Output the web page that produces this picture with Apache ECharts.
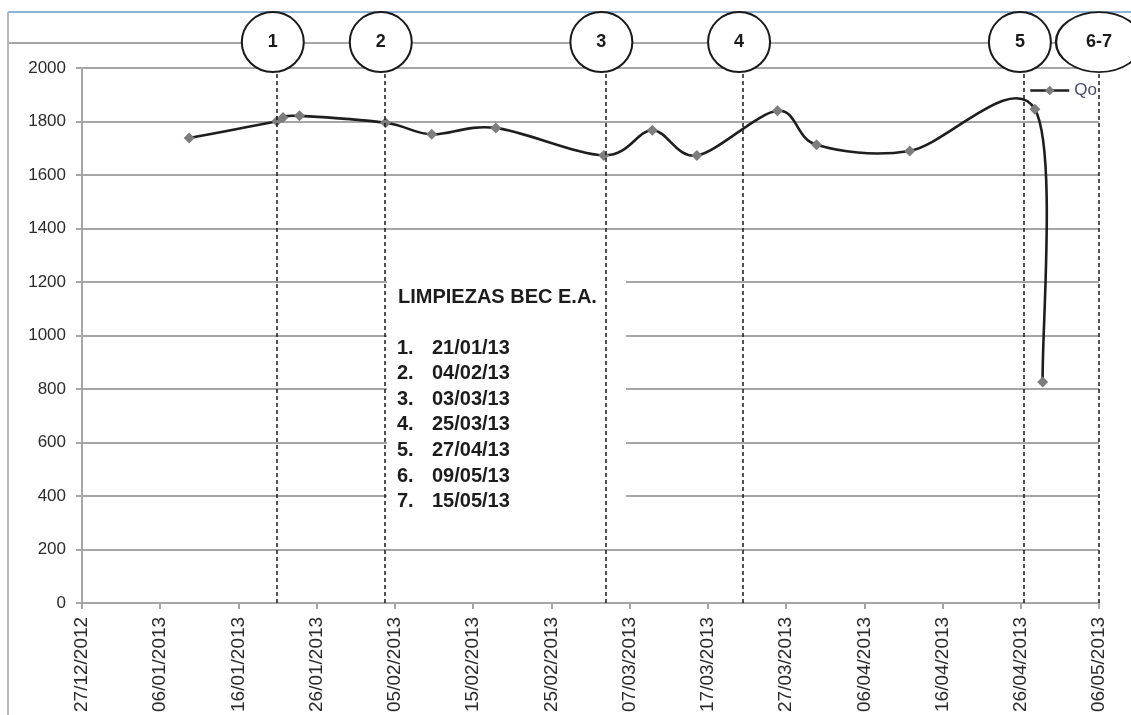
<!DOCTYPE html>
<html>
<head>
<meta charset="utf-8">
<title>Qo</title>
<script src="https://cdn.jsdelivr.net/npm/echarts@6/dist/echarts.min.js"></script>
<style>
  html, body { margin: 0; padding: 0; background: #ffffff; }
  #chart { width: 1131px; height: 715px; }
</style>
</head>
<body>
<div id="chart"></div>
<script>
// x axis: days counted from 27/12/2012, one tick every 10 days
const tickLabels = ['27/12/2012', '06/01/2013', '16/01/2013', '26/01/2013', '05/02/2013',
  '15/02/2013', '25/02/2013', '07/03/2013', '17/03/2013', '27/03/2013',
  '06/04/2013', '16/04/2013', '26/04/2013', '06/05/2013'];

// Qo readings (day offset, value)
const sampleDays = [13.7, 24.9, 25.7, 27.8, 38.8, 44.7, 52.9, 66.7, 72.9, 78.6, 88.9, 93.9, 105.8, 121.8, 122.8];
const qoValues = [1738, 1801, 1815, 1821, 1795, 1752, 1776, 1673, 1767, 1673, 1840, 1713, 1690, 1846, 826];

// cleaning events marked on the chart
const eventDays = [24.9, 38.7, 66.9, 84.5, 120.4, 130];
const eventTags = ['1', '2', '3', '4', '5', '6-7'];

// note box
const boxTitle = 'LIMPIEZAS BEC E.A.';
const eventDates = ['21/01/13', '04/02/13', '03/03/13', '25/03/13', '27/04/13', '09/05/13', '15/05/13'];

const FONT = '"Liberation Sans", Arial, sans-serif';
const GRID_GRAY = '#a6a6a6';
const TAG_LEVEL = 2097; // circles sit above the plot, on the header rule

const chart = echarts.init(document.getElementById('chart'), null, { renderer: 'canvas' });

// Excel-like smoothed curve (Catmull-Rom as cubic Beziers) through the readings
function renderCurve(params, api) {
  if (params.dataIndex !== 0) return null;
  const pts = sampleDays.map((d, i) => api.coord([d, qoValues[i]]));
  let path = 'M' + pts[0][0] + ',' + pts[0][1];
  for (let i = 0; i < pts.length - 1; i++) {
    const p0 = pts[i - 1] || pts[i];
    const p1 = pts[i];
    const p2 = pts[i + 1];
    const p3 = pts[i + 2] || pts[i + 1];
    const c1x = p1[0] + (p2[0] - p0[0]) / 6, c1y = p1[1] + (p2[1] - p0[1]) / 6;
    const c2x = p2[0] - (p3[0] - p1[0]) / 6, c2y = p2[1] - (p3[1] - p1[1]) / 6;
    path += ' C' + c1x + ',' + c1y + ' ' + c2x + ',' + c2y + ' ' + p2[0] + ',' + p2[1];
  }
  return {
    type: 'path',
    shape: { pathData: path },
    style: { fill: 'none', stroke: '#1e1e1e', lineWidth: 2.6, lineJoin: 'round' }
  };
}

const noteElements = [
  { type: 'line', z: 0, shape: { x1: 8, y1: 12, x2: 1131, y2: 12 }, style: { stroke: '#8fb3d6', lineWidth: 2 } },
  { type: 'line', z: 0, shape: { x1: 8, y1: 43, x2: 1131, y2: 43 }, style: { stroke: GRID_GRAY, lineWidth: 2 } },
  { type: 'line', z: 0, shape: { x1: 8, y1: 12, x2: 8, y2: 715 }, style: { stroke: '#b8b8b8', lineWidth: 2 } },
  { type: 'rect', z: 1, shape: { x: 387, y: 262, width: 239, height: 263 }, style: { fill: '#ffffff' } },
  { type: 'text', z: 6, x: 398, y: 297, style: { text: boxTitle, font: 'bold 20px ' + FONT, fill: '#1c1c1c', verticalAlign: 'middle' } }
];
eventDates.forEach((t, i) => {
  const y = 348 + i * 25.6;
  noteElements.push({ type: 'text', z: 6, x: 397, y: y, style: { text: (i + 1) + '.', font: 'bold 20px ' + FONT, fill: '#1c1c1c', verticalAlign: 'middle' } });
  noteElements.push({ type: 'text', z: 6, x: 432, y: y, style: { text: t, font: 'bold 20px ' + FONT, fill: '#1c1c1c', verticalAlign: 'middle' } });
});

const option = {
  animation: false,
  backgroundColor: '#ffffff',
  textStyle: { fontFamily: FONT },
  grid: { left: 82, right: 32, top: 68, bottom: 111, containLabel: false },
  legend: {
    data: ['Qo'],
    left: 1029, top: 82, padding: 0,
    itemWidth: 39, itemHeight: 12, itemGap: 4,
    lineStyle: { color: '#1e1e1e', width: 2.5, opacity: 1 },
    textStyle: { fontSize: 17, color: '#4a4a6e', fontFamily: FONT }
  },
  xAxis: {
    type: 'value', min: 0, max: 130, interval: 10,
    axisLine: { show: true, onZero: false, lineStyle: { color: GRID_GRAY, width: 2 } },
    axisTick: { show: true, length: 6, lineStyle: { color: GRID_GRAY, width: 2 } },
    axisLabel: {
      rotate: 90, margin: 14, fontSize: 19, color: '#2b2b2b', fontFamily: FONT,
      formatter: v => tickLabels[Math.round(v / 10)]
    },
    splitLine: { show: false }
  },
  yAxis: {
    type: 'value', min: 0, max: 2000, interval: 200,
    axisLine: { show: true, lineStyle: { color: GRID_GRAY, width: 2 } },
    axisTick: { show: true, length: 6, lineStyle: { color: GRID_GRAY, width: 2 } },
    axisLabel: { margin: 16, fontSize: 17, color: '#2b2b2b', fontFamily: FONT, formatter: v => String(v) },
    splitLine: { show: true, lineStyle: { color: GRID_GRAY, width: 2 } }
  },
  graphic: { elements: noteElements },
  series: [
    {
      name: 'curve', type: 'custom', silent: true, z: 3,
      data: sampleDays.map((d, i) => [d, qoValues[i]]),
      encode: { x: 0, y: 1 },
      renderItem: renderCurve
    },
    {
      name: 'Qo', type: 'line', z: 4,
      data: sampleDays.map((d, i) => [d, qoValues[i]]),
      symbol: 'diamond', symbolSize: 11, showSymbol: true, showAllSymbol: true,
      itemStyle: { color: '#7d7d7d' },
      lineStyle: { opacity: 0, width: 2.5, color: '#1e1e1e' }
    },
    {
      name: 'events', type: 'scatter', z: 5, clip: false, silent: true,
      symbol: 'path://M0,50 A50,50 0 1,1 100,50 A50,50 0 1,1 0,50 Z',
      symbolKeepAspect: false,
      data: eventDays.map((d, i) => ({
        value: [d, TAG_LEVEL],
        name: eventTags[i],
        symbolSize: eventTags[i].length > 1 ? [86, 60] : [62, 60],
        symbolOffset: eventTags[i].length > 1 ? [0, 0] : [-4, 0]
      })),
      itemStyle: { color: '#ffffff', borderColor: '#1a1a1a', borderWidth: 2, opacity: 1 },
      label: { show: true, position: 'inside', formatter: '{b}', fontSize: 18, fontWeight: 'bold', color: '#1a1a1a', fontFamily: FONT },
      markLine: {
        silent: true, symbol: ['none', 'none'],
        label: { show: false },
        lineStyle: { color: '#1a1a1a', width: 1.5, type: [4, 3] },
        data: eventDays.map(d => ({ xAxis: d }))
      }
    }
  ]
};

chart.setOption(option);
</script>
</body>
</html>
